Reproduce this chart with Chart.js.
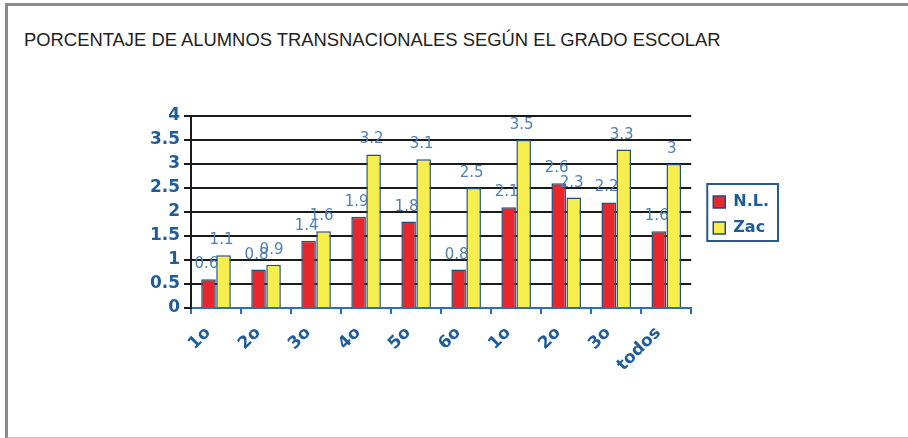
<!DOCTYPE html>
<html>
<head>
<meta charset="utf-8">
<script src="https://cdn.jsdelivr.net/npm/chart.js@4.4.1/dist/chart.umd.min.js"></script>
<style>
    html, body {
        margin: 0;
        padding: 0;
        background: #fff;
    }

    #frame {
        position: absolute;
        left: 5px;
        top: 3px;
        width: 903px;
        height: 431px;
        border-top: 3px solid #8a8a8a;
        border-left: 3px solid #8a8a8a;
        border-bottom: 2px solid #c4c4c4;
    }

    #title {
        position: absolute;
        left: 24px;
        top: 29px;
        font-family: "Liberation Sans", Arial, sans-serif;
        font-size: 18.4px;
        color: #222;
        white-space: nowrap;
    }

    #chart {
        position: absolute;
        left: 0;
        top: 0;
    }
</style>
</head>
<body>
<div id="frame"></div>
<div id="title">PORCENTAJE DE ALUMNOS TRANSNACIONALES SEGÚN EL GRADO ESCOLAR</div>
<canvas id="chart" width="908" height="438"></canvas>

<script>
const grades = ["1o", "2o", "3o", "4o", "5o", "6o", "1o", "2o", "3o", "todos"];
const nlValues = [0.6, 0.8, 1.4, 1.9, 1.8, 0.8, 2.1, 2.6, 2.2, 1.6];
const zacValues = [1.1, 0.9, 1.6, 3.2, 3.1, 2.5, 3.5, 2.3, 3.3, 3];
const yTicks = [0, 0.5, 1, 1.5, 2, 2.5, 3, 3.5, 4];

const axisBlue = "#1f5c99";
const fontFamily = "'DejaVu Sans', Verdana, sans-serif";

// value labels above each bar
const valueLabels = {
    id: "valueLabels",
    afterDatasetsDraw(chart) {
        const ctx = chart.ctx;
        ctx.save();
        ctx.font = "15px " + fontFamily;
        ctx.fillStyle = "#4f7fb4";
        ctx.textAlign = "center";
        ctx.textBaseline = "alphabetic";
        chart.data.datasets.forEach((ds, i) => {
            chart.getDatasetMeta(i).data.forEach((bar, j) => {
                ctx.fillText(String(ds.data[j]), bar.x - 2, bar.y - 11);
            });
        });
        ctx.restore();
    },
};

// box around the legend
const legendBox = {
    id: "legendBox",
    afterDraw(chart) {
        const boxes = chart.legend && chart.legend.legendHitBoxes;
        if (!boxes || !boxes.length) {
            return;
        }
        const left = Math.min(...boxes.map((b) => b.left)) - 6;
        const top = Math.min(...boxes.map((b) => b.top)) - 10;
        const right = Math.max(...boxes.map((b) => b.left + b.width)) + 9;
        const bottom = Math.max(...boxes.map((b) => b.top + b.height)) + 5;
        const ctx = chart.ctx;
        ctx.save();
        ctx.strokeStyle = "#2a5a8a";
        ctx.lineWidth = 2;
        ctx.strokeRect(left, top, right - left, bottom - top);
        ctx.restore();
    },
};

new Chart(document.getElementById("chart").getContext("2d"), {
    type: "bar",

    data: {
        labels: grades,

        datasets: [
            {
                label: "N.L.",
                data: nlValues,
                backgroundColor: "#e8262b",
                borderColor: "#1f4e79",
                borderWidth: 1.5,
            },
            {
                label: "Zac",
                data: zacValues,
                backgroundColor: "#f6ee4f",
                borderColor: "#1f4e79",
                borderWidth: 1.5,
            },
        ],
    },

    options: {
        responsive: false,
        animation: false,
        devicePixelRatio: 1,

        layout: {
            padding: { left: 124, right: 129, top: 116, bottom: 40 },
        },

        datasets: {
            bar: {
                categoryPercentage: 0.6,
                barPercentage: 0.97,
            },
        },

        scales: {
            x: {
                grid: {
                    offset: true,
                    drawOnChartArea: false,
                    drawTicks: true,
                    tickLength: 6,
                    color: "#2f6eb5",
                    lineWidth: 2,
                },
                border: { color: "#2f6eb5", width: 2 },
                ticks: {
                    color: axisBlue,
                    font: { family: fontFamily, size: 17, weight: "bold" },
                    minRotation: 45,
                    maxRotation: 45,
                    padding: 9,
                    labelOffset: -8,
                },
                afterFit(scale) {
                    scale.height = 90;
                },
            },
            y: {
                min: 0,
                max: 4,
                afterBuildTicks(scale) {
                    scale.ticks = yTicks.map((v) => ({ value: v }));
                },
                grid: {
                    color: "#1a1a1a",
                    lineWidth: 2,
                    tickLength: 7,
                },
                border: { color: "#1a1a1a", width: 2 },
                ticks: {
                    color: axisBlue,
                    font: { family: fontFamily, size: 17, weight: "bold" },
                    padding: 4,
                    callback: (v) => String(v),
                },
                afterFit(scale) {
                    scale.width = 67;
                },
            },
            // empty spacer between plot and legend
            gap: {
                type: "linear",
                position: "right",
                display: true,
                grid: { display: false },
                border: { display: false },
                ticks: { display: false },
                afterFit(scale) {
                    scale.width = 12;
                },
            },
        },

        plugins: {
            legend: {
                position: "right",
                fullSize: false,
                title: { display: true, text: "", padding: 0, font: { size: 5 } },
                labels: {
                    color: axisBlue,
                    font: { family: fontFamily, size: 16, weight: "bold" },
                    boxWidth: 12,
                    boxHeight: 12,
                    padding: 10,
                    generateLabels(chart) {
                        return chart.data.datasets.map((ds, i) => ({
                            text: ds.label,
                            fillStyle: ds.backgroundColor,
                            strokeStyle: "#1f4e79",
                            lineWidth: 1.5,
                            fontColor: axisBlue,
                            datasetIndex: i,
                        }));
                    },
                },
            },
            title: { display: false },
            tooltip: { enabled: false },
        },
    },

    plugins: [valueLabels, legendBox],
});
</script>
</body>
</html>
